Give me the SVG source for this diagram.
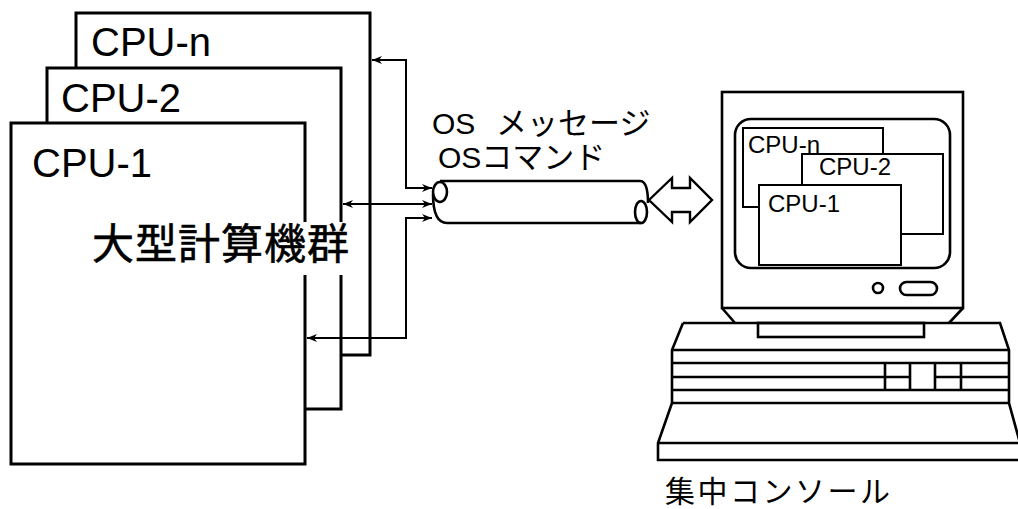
<svg xmlns="http://www.w3.org/2000/svg" width="1018" height="509" viewBox="0 0 1018 509">
  <style>
    .box { fill: #fff; stroke: none; }
    .edge { fill: none; stroke: #000; stroke-width: 3; stroke-linejoin: miter; }
    .cpu { font-family: "Liberation Sans", Arial, sans-serif; font-size: 40px; fill: #000; }
    .jp { font-family: "Noto Sans CJK JP", sans-serif; fill: #000; }
    .mix { font-family: "Liberation Sans", "Noto Sans CJK JP", sans-serif; font-size: 30px; fill: #000; }
    .wire { fill: none; stroke: #000; stroke-width: 2; }
    .line { fill: none; stroke: #000; stroke-width: 2.6; }
    .win { fill: #fff; stroke: #000; stroke-width: 2; }
    .wtext { font-family: "Liberation Sans", Arial, sans-serif; font-size: 24px; fill: #000; }
  </style>
  <defs>
    <marker id="head" viewBox="0 0 10 8" refX="10" refY="4" markerWidth="10" markerHeight="8" markerUnits="userSpaceOnUse" orient="auto-start-reverse">
      <path d="M0,0 L10,4 L0,8 L3,4 Z" fill="#000"/>
    </marker>
  </defs>

  <rect width="1018" height="509" fill="#fff"/>

  <!-- mainframe stack, back to front -->
  <g id="cpu-n">
    <rect class="box" x="76" y="13" width="294" height="342"/>
    <rect class="edge" x="76" y="13" width="294" height="342"/>
    <text class="cpu" x="91" y="56">CPU-n</text>
  </g>
  <g id="cpu-2">
    <rect class="box" x="47" y="68" width="294" height="341"/>
    <path class="edge" d="M341,222 V68 H47 V409 H341 V275"/>
    <text class="cpu" x="61" y="112">CPU-2</text>
  </g>
  <g id="cpu-1">
    <rect class="box" x="11" y="123" width="294" height="341"/>
    <path class="edge" d="M305,222 V123 H11 V464 H305 V275"/>
    <text class="cpu" x="32" y="177">CPU-1</text>
  </g>
  <text id="mainframe-label" class="jp" x="92" y="259" font-size="42" letter-spacing="1" stroke="#000" stroke-width="0.6">大型計算機群</text>

  <!-- links between the CPUs and the channel -->
  <g id="connectors">
    <path class="wire" d="M432,188 H406 V60 H372" marker-start="url(#head)" marker-end="url(#head)"/>
    <path class="wire" d="M343,204 H432" marker-start="url(#head)" marker-end="url(#head)"/>
    <path class="wire" d="M432,218 H406 V338 H307" marker-start="url(#head)" marker-end="url(#head)"/>
    <path id="link-arrow" d="M649,200 L672,178 V188 H690 V178 L712,200 L690,222 V212 H672 V222 Z" fill="#fff" stroke="#000" stroke-width="2.4" stroke-linejoin="miter"/>
  </g>

  <!-- channel pipe -->
  <g id="channel">
    <path class="line" d="M440,181 H640 Q648,181 648,203"/>
    <path class="line" d="M433,194 Q433,223 447,223 H641"/>
    <ellipse class="line" cx="440" cy="192" rx="7" ry="10"/>
    <ellipse class="line" cx="641" cy="212" rx="6" ry="11"/>
    <text class="mix" x="432" y="134">OS <tspan x="496" font-size="31">メッセージ</tspan></text>
    <text class="mix" x="438" y="168">OS<tspan font-size="31">コマンド</tspan></text>
  </g>

  <!-- central console -->
  <g id="console">
    <rect class="line" x="722" y="92" width="241" height="216"/>
    <path class="line" d="M722,308 L735,323 M963,308 L949,323"/>
    <rect class="line" x="735" y="119" width="215" height="149" rx="16"/>
    <rect class="win" x="743" y="128" width="140" height="79"/>
    <text class="wtext" x="748" y="153">CPU-n</text>
    <rect class="win" x="802" y="154" width="141" height="80"/>
    <text class="wtext" x="819" y="175">CPU-2</text>
    <rect class="win" x="759" y="185" width="142" height="80"/>
    <text class="wtext" x="768" y="212">CPU-1</text>
    <circle class="line" cx="878" cy="288" r="5"/>
    <rect class="line" x="900" y="282" width="37" height="13" rx="6.5"/>
    <!-- keyboard base -->
    <path class="line" d="M683,323 H1000 L1009,350 V403 L1020,443 M683,323 L672,350 V403 L658,443 V460 H1020 M658,443 H1020"/>
    <rect class="line" x="758" y="323" width="166" height="14"/>
    <path class="line" d="M672,350 H1009 M672,363 H1009 M672,377 H910 M935,377 H1009 M672,390 H1009 M672,403 H1009"/>
    <path class="line" d="M885,363 V390 M910,363 V390 M935,363 V390 M961,363 V390"/>
    <text class="jp" x="665" y="502" font-size="30" letter-spacing="2.5">集中コンソール</text>
  </g>
</svg>
